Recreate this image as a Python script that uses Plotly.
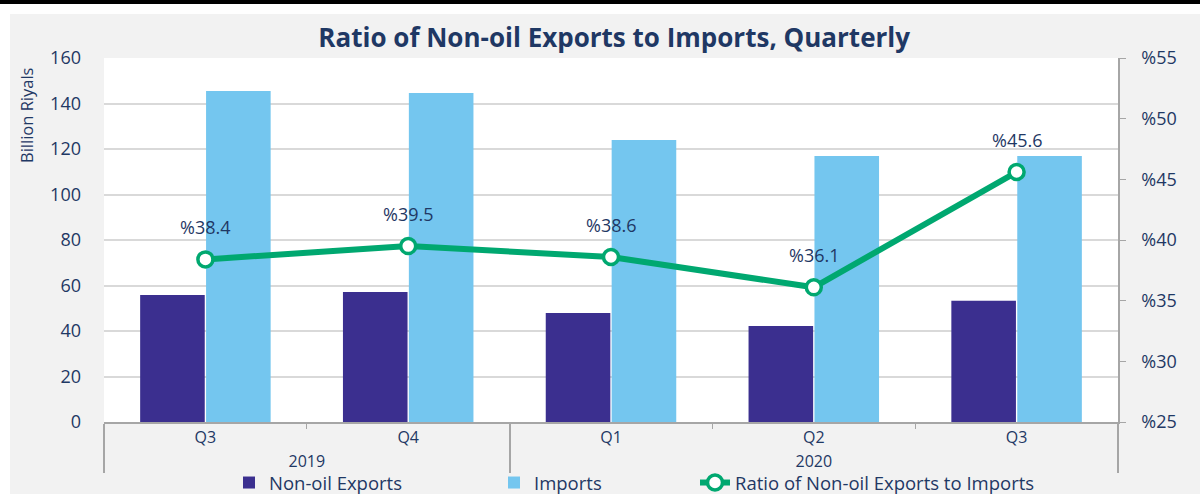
import plotly.graph_objects as go

years = ["2019", "2019", "2020", "2020", "2020"]
quarters = ["Q3", "Q4", "Q1", "Q2", "Q3"]
non_oil_exports = [55.8, 57.1, 47.9, 42.2, 53.3]
imports = [145.5, 144.6, 124.0, 116.9, 116.9]
ratio = [38.4, 39.5, 38.6, 36.1, 45.6]
ratio_labels = ["%" + f"{v:.1f}" for v in ratio]

# keep inner categories unique so the multicategory axis keeps the given order
inner = []
seen = {}
for q in quarters:
    n = seen.get(q, 0)
    inner.append(q + "\u200b" * n)
    seen[q] = n + 1
x = [years, inner]

NAVY = "#1f3864"
FONT = "Open Sans"

fig = go.Figure()
fig.add_trace(go.Bar(x=x, y=non_oil_exports, name="Non-oil Exports", legend="legend2",
                     marker=dict(color="#3b2f8f", line=dict(width=0))))
fig.add_trace(go.Bar(x=x, y=imports, name="Imports", legend="legend3",
                     marker=dict(color="#74c6ef", line=dict(width=0))))
fig.add_trace(go.Scatter(x=x, y=ratio, name="Ratio of Non-oil Exports to Imports",
                         yaxis="y2", mode="lines+markers", legend="legend4",
                         line=dict(color="#00a870", width=6),
                         marker=dict(size=15, color="white",
                                     line=dict(color="#00a870", width=3.5))))

L, R, T, B = 104, 82, 58, 72
W, H = 1200, 494
pw, ph = W - L - R, H - T - B
def px(xp):
    return (xp - L) / pw
def py(yp):
    return (H - B - yp) / ph

annotations = []
for i, (v, t) in enumerate(zip(ratio, ratio_labels)):
    annotations.append(dict(x=i, y=v, xref="x", yref="y2", text=t, showarrow=False,
                            yshift=32, font=dict(family=FONT, size=18, color=NAVY)))
annotations.append(dict(x=px(26), y=py(115), xref="paper", yref="paper",
                        text="Billion Riyals", textangle=-90, showarrow=False,
                        xanchor="center", yanchor="middle",
                        font=dict(family=FONT, size=16.5, color=NAVY)))

shapes = [
    dict(type="rect", xref="paper", yref="paper", x0=px(10), x1=px(1200),
         y0=py(494), y1=py(14), fillcolor="#f2f2f2", line=dict(width=0), layer="below"),
    dict(type="rect", xref="paper", yref="paper", x0=px(0), x1=px(1200),
         y0=py(4), y1=py(0), fillcolor="black", line=dict(width=0), layer="below"),
    dict(type="rect", xref="paper", yref="paper", x0=0, x1=1,
         y0=0, y1=1, fillcolor="white", line=dict(width=0), layer="below"),
]

def leg(text_x):
    return dict(orientation="h", xref="container", yref="container",
                x=(text_x - 42) / W, xanchor="left", y=(H - 483) / H, yanchor="middle",
                bgcolor="rgba(0,0,0,0)", font=dict(family=FONT, size=18.5, color=NAVY),
                itemwidth=30)

fig.update_layout(
    width=W, height=H,
    margin=dict(l=L, r=R, t=T, b=B, autoexpand=False),
    paper_bgcolor="white", plot_bgcolor="rgba(0,0,0,0)",
    title=dict(text="<b>Ratio of Non-oil Exports to Imports, Quarterly</b>",
               x=px(623), xanchor="center", y=1 - 38 / H, yanchor="middle",
               font=dict(family=FONT, size=26, color=NAVY)),
    barmode="group", bargap=0.35, bargroupgap=0.02,
    font=dict(family=FONT, color=NAVY, size=16),
    xaxis=dict(type="multicategory", showline=True, linecolor="#a6a6a6", linewidth=1.5,
               showdividers=True, dividercolor="#a6a6a6", dividerwidth=1.5,
               ticks="outside", tickcolor="#a6a6a6",
               tickfont=dict(family=FONT, size=16, color=NAVY)),
    yaxis=dict(range=[0, 160], dtick=20, showgrid=True, gridcolor="#d9d9d9", gridwidth=1.5,
               zeroline=False, showline=False, ticklabelstandoff=22,
               tickfont=dict(family=FONT, size=18, color=NAVY)),
    yaxis2=dict(range=[25, 55], dtick=5, overlaying="y", side="right", showgrid=False,
                tickprefix="%", showline=True, linecolor="#a6a6a6", linewidth=1.5,
                ticks="outside", ticklen=6, tickcolor="#a6a6a6", zeroline=False,
                ticklabelstandoff=12,
                tickfont=dict(family=FONT, size=18, color=NAVY)),
    legend2=leg(271),
    legend3=leg(536),
    legend4=leg(737),
    annotations=annotations,
    shapes=shapes,
)

fig.write_html("out.html", config={"displayModeBar": False},
               post_script="document.body.style.margin='0px';")
